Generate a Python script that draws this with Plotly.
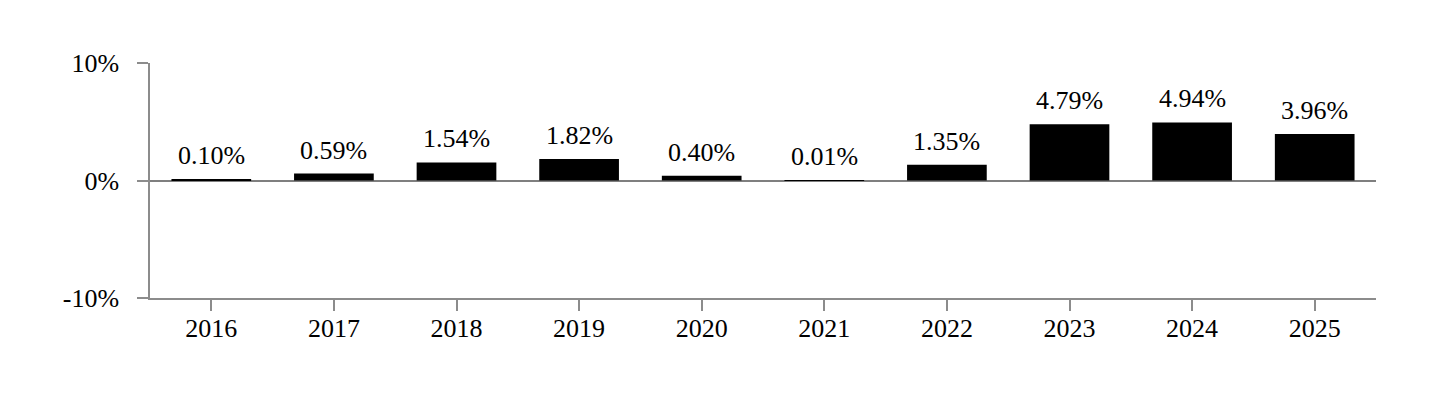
import plotly.graph_objects as go

years = ["2016", "2017", "2018", "2019", "2020", "2021", "2022", "2023", "2024", "2025"]
values = [0.10, 0.59, 1.54, 1.82, 0.40, 0.01, 1.35, 4.79, 4.94, 3.96]
y_tickvals = [-10, 0, 10]
y_ticktext = ["-10%", "0%", "10%"]

FONT = "Times New Roman, Liberation Serif, serif"
FS = 26
AXIS = "#8c8c8c"

xpos = list(range(len(years)))

fig = go.Figure()
fig.add_trace(go.Bar(
    x=xpos, y=values, width=0.65,
    marker=dict(color="#000000", line=dict(width=0)),
    hoverinfo="skip",
))

for xp, v in zip(xpos, values):
    fig.add_annotation(
        x=xp, y=v, text=f"{v:.2f}%", showarrow=False,
        yanchor="bottom", xanchor="center", yshift=7,
        font=dict(family=FONT, size=FS, color="#000000"),
    )

fig.update_layout(
    width=1440, height=410,
    margin=dict(l=150, r=64, t=63, b=112),
    paper_bgcolor="white", plot_bgcolor="white",
    showlegend=False,
    font=dict(family=FONT, size=FS, color="#000000"),
)
fig.update_xaxes(
    range=[-0.5, len(years) - 0.5],
    tickvals=xpos, ticktext=years,
    showline=True, linecolor=AXIS, linewidth=1.5,
    ticks="outside", ticklen=11, tickcolor=AXIS, tickwidth=1.5,
    ticklabelstandoff=-5,
    showgrid=False, zeroline=False,
    tickfont=dict(family=FONT, size=FS, color="#000000"),
)
fig.update_yaxes(
    range=[-10, 10],
    tickvals=y_tickvals, ticktext=y_ticktext,
    showline=True, linecolor=AXIS, linewidth=1.5,
    ticks="outside", ticklen=11, tickcolor=AXIS, tickwidth=1.5,
    ticklabelstandoff=13,
    showgrid=True, gridcolor="#e6e6e6", gridwidth=1.5,
    zeroline=True, zerolinecolor="#7f7f7f", zerolinewidth=1.5,
    tickfont=dict(family=FONT, size=FS, color="#000000"),
)

fig.write_html("out.html")
